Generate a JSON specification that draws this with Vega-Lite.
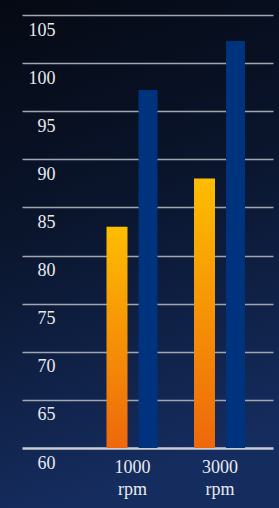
{
  "$schema": "https://vega.github.io/schema/vega-lite/v6.json",
  "width": 279,
  "height": 508,
  "padding": 0,
  "autosize": {"type": "none"},
  "background": "#0c1a38",
  "config": {
    "view": {
      "stroke": null,
      "fill": {
        "gradient": "linear",
        "x1": 0, "y1": 0, "x2": 0.2, "y2": 1,
        "stops": [
          {"offset": 0, "color": "#050913"},
          {"offset": 0.45, "color": "#0a152c"},
          {"offset": 1, "color": "#152c5e"}
        ]
      }
    }
  },
  "data": {
    "values": [
      {"rpm": "1000 rpm", "series": "a", "value": 83.0},
      {"rpm": "1000 rpm", "series": "b", "value": 97.2},
      {"rpm": "3000 rpm", "series": "a", "value": 88.0},
      {"rpm": "3000 rpm", "series": "b", "value": 102.3}
    ]
  },
  "encoding": {
    "x": {
      "field": "rpm",
      "type": "nominal",
      "scale": {"type": "band", "range": [22, 273], "paddingInner": 0.417, "paddingOuter": 0.643, "align": 0.7556},
      "axis": {
        "orient": "bottom",
        "title": null,
        "domain": false,
        "ticks": false,
        "tickSize": 0,
        "grid": false,
        "labelAngle": 0,
        "labelExpr": "split(datum.label, ' ')",
        "labelPadding": -50,
        "labelBaseline": "top",
        "labelLineHeight": 22,
        "labelFont": "Liberation Serif",
        "labelFontSize": 18,
        "labelColor": "#e8eaef",
        "labelOverlap": false
      }
    },
    "xOffset": {
      "field": "series",
      "type": "nominal",
      "scale": {"domain": ["a", "b"], "paddingInner": 0.355, "paddingOuter": 0}
    },
    "y": {
      "field": "value",
      "type": "quantitative",
      "scale": {"domain": [60, 105], "range": [448, 15], "zero": false, "nice": false},
      "axis": {
        "orient": "left",
        "title": null,
        "values": [60, 65, 70, 75, 80, 85, 90, 95, 100, 105],
        "grid": true,
        "gridColor": {"condition": {"test": "datum.value === 60", "value": "#c9ccd3"}, "value": "#a2a6ae"},
        "gridWidth": {"condition": {"test": "datum.value === 60", "value": 2.5}, "value": 1.5},
        "domain": false,
        "ticks": false,
        "tickSize": 0,
        "labelPadding": -55,
        "labelAlign": "right",
        "labelBaseline": "middle",
        "labelOffset": 15,
        "labelFont": "Liberation Serif",
        "labelFontSize": 18,
        "labelColor": "#e8eaef",
        "labelOverlap": false
      }
    },
    "y2": {"datum": 60}
  },
  "layer": [
    {
      "transform": [{"filter": "datum.series === 'a'"}],
      "mark": {
        "type": "bar",
        "width": 21,
        "color": {
          "gradient": "linear",
          "x1": 0, "y1": 0, "x2": 0, "y2": 1,
          "stops": [
            {"offset": 0, "color": "#fdbd00"},
            {"offset": 1, "color": "#ee680b"}
          ]
        }
      }
    },
    {
      "transform": [{"filter": "datum.series === 'b'"}],
      "mark": {"type": "bar", "width": 19, "color": "#00337d"}
    }
  ]
}
